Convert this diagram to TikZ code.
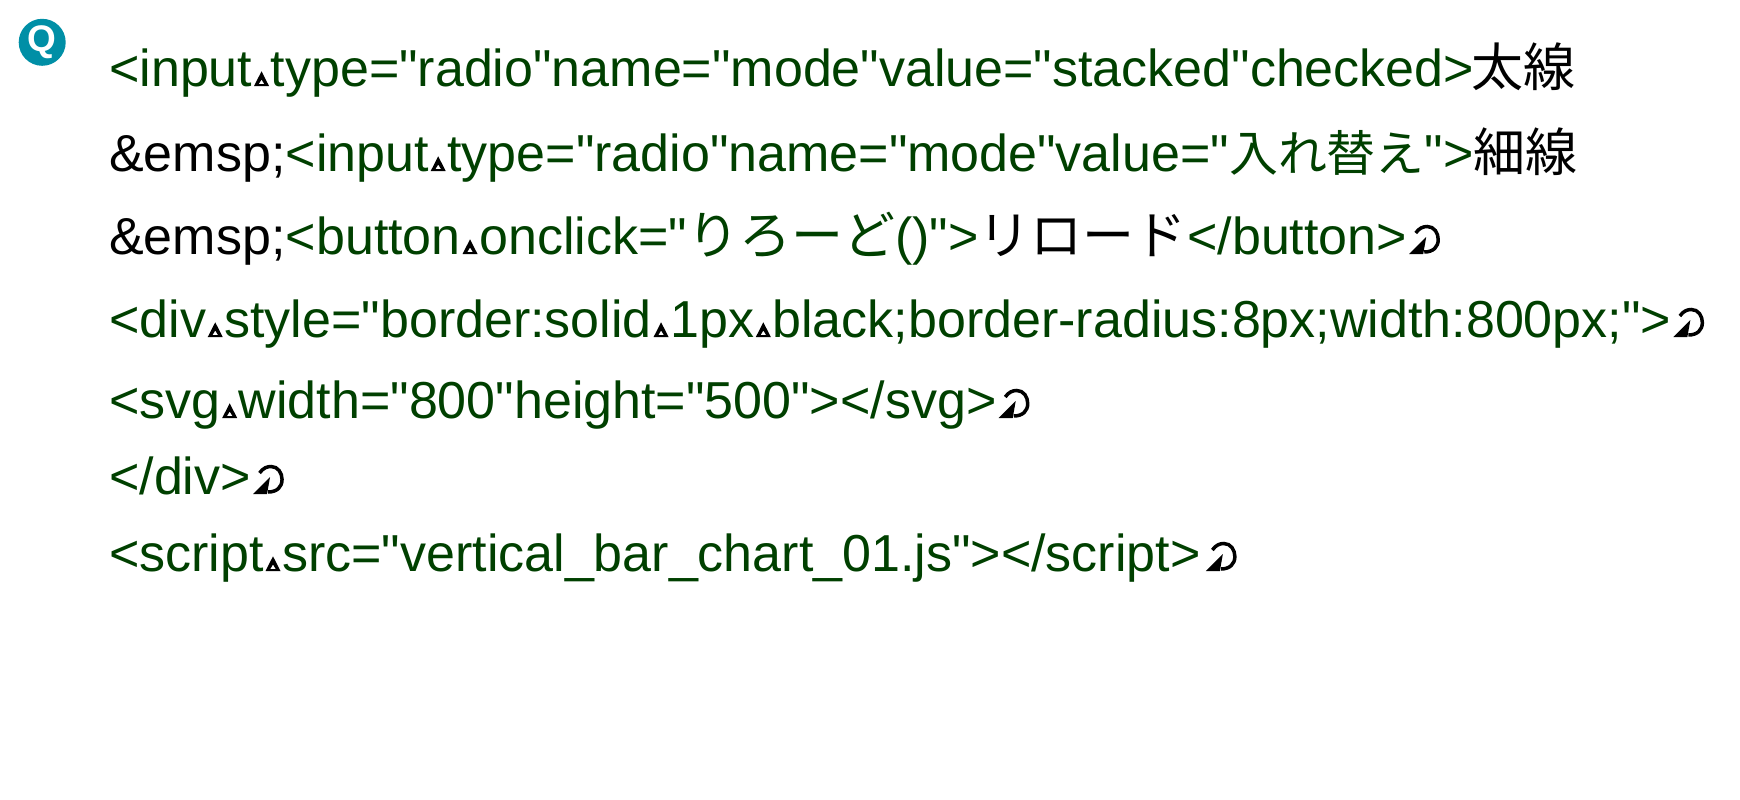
\documentclass[tikz,border=0pt]{standalone}
\usepackage{fontspec}
\setmainfont{Liberation Sans}[Ligatures=TeXOff]
\newfontfamily\cjkfont{Noto Sans CJK JP}
\newfontfamily\cjksmall{Noto Sans CJK JP}[Scale=0.94]
\definecolor{codegreen}{RGB}{0,64,0}
\definecolor{qteal}{RGB}{0,143,166}
\newcommand{\codesize}{\fontsize{52}{52}\selectfont}
\tikzset{
  codetext/.style={inner sep=0pt,anchor=base west,font=\codesize,text=codegreen},
  plaintext/.style={codetext,text=black},
  spacemark/.pic={\fill[black,even odd rule] (-7.5,0) -- (7.5,0) -- (0,-14.7) -- cycle (-2.8,-1.9) -- (2.8,-1.9) -- (0,-6.5) -- cycle;},
  returnmark/.pic={
    \draw[black,line width=3.5pt] (6.5,-21) .. controls (10,-26) and (14,-27.5) .. (18,-27.5) .. controls (25,-27.5) and (29,-21) .. (29,-14.5) .. controls (29,-7) and (24,-2) .. (15,-2);
    \fill[black] (0,0) -- (17,-17) -- (14,0) -- cycle;},
}
\begin{document}
\begin{tikzpicture}[x=1pt,y=-1pt]
\useasboundingbox (0,0) rectangle (1740,800);
% Q
\node[circle,fill=qteal,minimum size=47pt,inner sep=0pt,text=white,font=\fontsize{37}{37}\selectfont\bfseries] (q) at (42.2,42.3) {Q};
% line 1
\coordinate (l1) at (109,86);
\node[codetext] (a1) at (l1) {<input};
\pic at ([xshift=9pt]a1.base east) {spacemark};
\node[codetext,xshift=18pt] (a2) at (a1.base east) {type="radio"name="mode"value="stacked"checked>};
\node[plaintext,xshift=-3pt] (a3) at (a2.base east) {\cjkfont 太線};
% line 2
\coordinate (l2) at (109,171);
\node[plaintext] (b1) at (l2) {\&emsp;};
\node[codetext] (b2) at (b1.base east) {<input};
\pic at ([xshift=9pt]b2.base east) {spacemark};
\node[codetext,xshift=18pt] (b3) at (b2.base east) {type="radio"name="mode"value="\cjksmall 入れ替え\normalfont">};
\node[plaintext] (b4) at (b3.base east) {\cjkfont 細線};
% line 3
\coordinate (l3) at (109,254);
\node[plaintext] (c1) at (l3) {\&emsp;};
\node[codetext] (c2) at (c1.base east) {<button};
\pic at ([xshift=9pt]c2.base east) {spacemark};
\node[codetext,xshift=18pt] (c3) at (c2.base east) {onclick="\cjkfont りろーど\normalfont()">};
\node[plaintext] (c4) at (c3.base east) {\cjkfont リロード};
\node[codetext] (c5) at (c4.base east) {</button>};
\pic at ([xshift=2pt]c5.base east) {returnmark};
% line 4
\coordinate (l4) at (109,337);
\node[codetext] (d1) at (l4) {<div};
\pic at ([xshift=9pt]d1.base east) {spacemark};
\node[codetext,xshift=18pt] (d2) at (d1.base east) {style="border:solid};
\pic at ([xshift=9pt]d2.base east) {spacemark};
\node[codetext,xshift=18pt] (d3) at (d2.base east) {1px};
\pic at ([xshift=9pt]d3.base east) {spacemark};
\node[codetext,xshift=18pt] (d4) at (d3.base east) {black;border-radius:8px;width:800px;">};
\pic at ([xshift=2pt]d4.base east) {returnmark};
% line 5
\coordinate (l5) at (109,418);
\node[codetext] (e1) at (l5) {<svg};
\pic at ([xshift=9pt]e1.base east) {spacemark};
\node[codetext,xshift=18pt] (e2) at (e1.base east) {width="800"height="500"></svg>};
\pic at ([xshift=2pt]e2.base east) {returnmark};
% line 6
\coordinate (l6) at (109,494);
\node[codetext] (f1) at (l6) {</div>};
\pic at ([xshift=2pt]f1.base east) {returnmark};
% line 7
\coordinate (l7) at (109,571);
\node[codetext] (g1) at (l7) {<script};
\pic at ([xshift=9pt]g1.base east) {spacemark};
\node[codetext,xshift=18pt] (g2) at (g1.base east) {src="vertical\_bar\_chart\_01.js"></script>};
\pic at ([xshift=5pt]g2.base east) {returnmark};
\end{tikzpicture}
\end{document}
